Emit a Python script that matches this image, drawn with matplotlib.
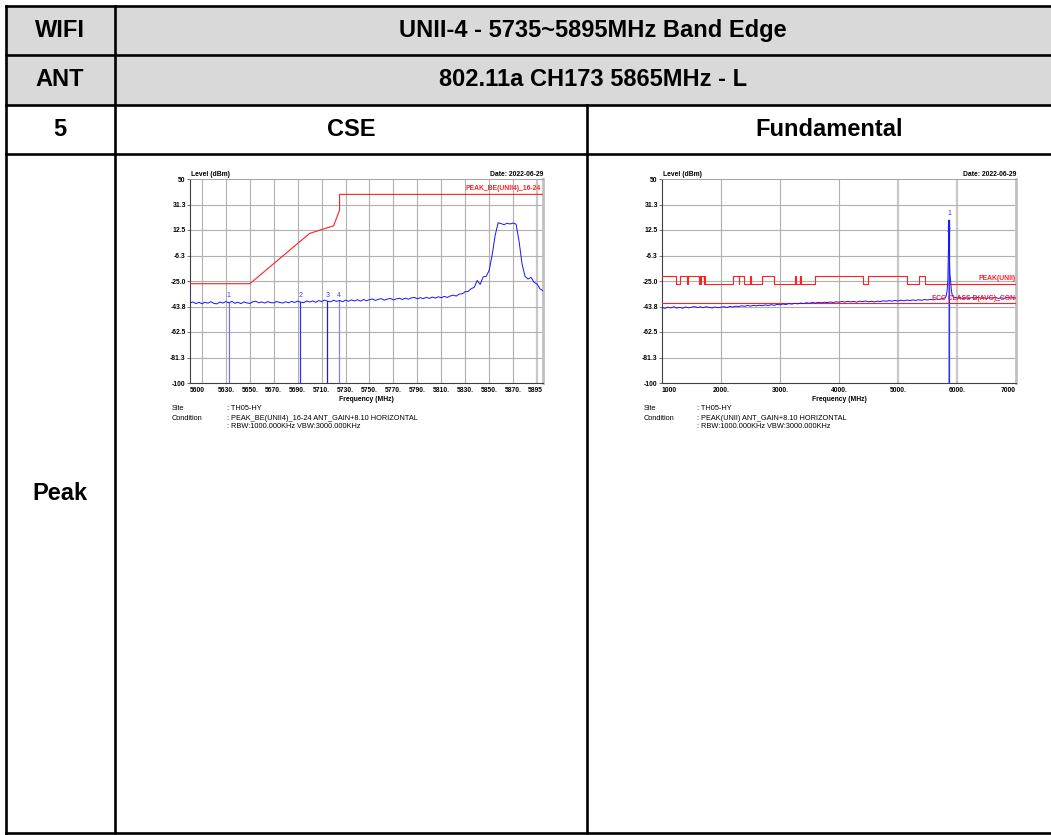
import numpy as np
import matplotlib
matplotlib.use("Agg")
import matplotlib.pyplot as plt

plt.rcParams['font.family'] = ['Liberation Sans', 'DejaVu Sans']

# ---------------- table texts ----------------
row_labels = ["WIFI", "ANT", "5", "Peak"]
title_band = "UNII-4 - 5735~5895MHz Band Edge"
title_ant = "802.11a CH173 5865MHz - L"
col_titles = ["CSE", "Fundamental"]

# ---------------- common y axis ----------------
y_ticks = [50, 31.25, 12.5, -6.25, -25.0, -43.75, -62.5, -81.25, -100]
y_tick_labels = ["50", "31.3", "12.5", "-6.3", "-25.0", "-43.8", "-62.5", "-81.3", "-100"]

# ---------------- CSE (band edge) plot ----------------
cse_grid = [5610, 5630, 5650, 5670, 5690, 5710, 5730, 5750, 5770, 5790,
            5810, 5830, 5850, 5870, 5890]
cse_tick_vals = [5600, 5630, 5650, 5670, 5690, 5710, 5730, 5750, 5770, 5790,
                 5810, 5830, 5850, 5870, 5895]
cse_tick_labels = ["5600", "5630.", "5650.", "5670.", "5690.", "5710.", "5730.",
                   "5750.", "5770.", "5790.", "5810.", "5830.", "5850.", "5870.", "5895"]
cse_freq_start, cse_freq_step = 5600.0, 2.5
cse_level = [-41.2, -40.4, -41.6, -40.7, -41.7, -40.6, -41.3, -40.2, -41.5, -41.8,
             -40.5, -41.2, -40.1, -41.1, -40.0, -41.4, -40.6, -41.6, -40.4, -41.1,
             -41.5, -40.3, -39.9, -41.0, -40.4, -41.2, -40.2, -40.9, -41.1, -40.1,
             -40.8, -41.2, -40.3, -41.0, -40.0, -40.8, -39.8, -40.6, -40.9, -39.7,
             -40.5, -39.6, -40.7, -39.4, -40.1, -39.0, -39.9, -40.3, -39.2, -40.0,
             -39.3, -40.2, -39.1, -39.9, -38.9, -39.7, -38.8, -39.8, -38.6, -39.5,
             -38.7, -38.2, -39.3, -38.4, -38.0, -39.1, -38.3, -37.8, -38.9, -38.1,
             -37.7, -38.6, -37.6, -38.4, -37.4, -37.1, -38.1, -37.2, -38.0, -37.0,
             -37.8, -36.8, -37.6, -36.6, -37.3, -36.3, -37.1, -36.0, -35.4, -36.1,
             -34.6, -34.4, -32.9, -32.6, -30.6, -29.7, -24.6, -27.5, -21.9, -21.6,
             -17.2, -6.0, 8.5, 17.8, 17.2, 16.4, 17.5, 16.9, 17.6, 16.8,
             4.2, -12.5, -21.6, -23.6, -22.3, -26.0, -27.2, -30.8, -32.2]
cse_limit_freq = [5600, 5650, 5700, 5720, 5725, 5725, 5895]
cse_limit_level = [-27.0, -27.0, 10.0, 15.6, 27.0, 38.7, 38.7]
cse_limit_name = "PEAK_BE(UNII4)_16-24"
cse_marker_freq = [5632.5, 5692.2, 5714.8, 5724.5]
cse_marker_level = [-40.6, -40.2, -39.5, -39.6]
cse_marker_names = ["1", "2", "3", "4"]

# ---------------- Fundamental plot ----------------
fund_grid = [2000, 3000, 4000, 5000, 6000]
fund_tick_vals = [1000, 2000, 3000, 4000, 5000, 6000, 7000]
fund_tick_labels = ["1000", "2000.", "3000.", "4000.", "5000.", "6000.", "7000"]
fund_low_start, fund_low_step = 1000, 50
fund_low_level = [-44.6, -45.1, -44.2, -44.8, -44.0, -44.9, -44.4, -45.0, -44.1, -44.7,
                  -44.3, -43.8, -44.5, -44.0, -44.6, -43.9, -44.4, -44.8, -44.1, -44.6,
                  -44.3, -43.9, -44.5, -43.7, -44.2, -43.5, -43.9, -43.2, -43.6, -43.0,
                  -43.5, -42.9, -43.3, -42.8, -43.2, -42.6, -43.0, -42.4, -42.9, -42.2,
                  -42.5, -41.9, -42.3, -41.6, -42.0, -41.4, -41.8, -41.2, -41.6, -41.0,
                  -41.4, -40.8, -41.2, -40.7, -41.1, -40.6, -40.9, -40.4, -40.8, -40.3,
                  -40.6, -40.1, -40.5, -39.9, -40.4, -40.0, -40.6, -39.8, -40.2, -39.7,
                  -40.3, -39.9, -40.4, -39.8, -40.1, -39.5, -39.9, -39.4, -39.8, -39.3,
                  -39.7, -39.1, -39.6, -39.0, -39.4, -38.9, -39.3, -38.8, -39.2, -38.6,
                  -39.0, -38.5, -38.9, -38.2, -38.6, -37.9, -37.4]
fund_peak_freq = [5820, 5835, 5845, 5852, 5857, 5861, 5864, 5866, 5868, 5871,
                  5875, 5880, 5887, 5895, 5905, 5920, 5940, 5960, 5980]
fund_peak_level = [-35.5, -31.0, -24.0, -8.0, 2.0, 14.0, 19.8, 18.5, 8.0, -5.0,
                   -14.0, -20.5, -22.5, -27.0, -32.0, -35.5, -36.8, -37.3, -37.0]
fund_high_start, fund_high_step = 6000, 50
fund_high_level = [-37.6, -37.1, -37.9, -37.3, -37.8, -37.2, -37.7, -37.0, -37.6, -37.3,
                   -37.9, -37.2, -37.6, -37.1, -37.8, -37.4, -37.7, -37.0, -37.5, -37.2,
                   -37.6]
restricted_bands = [(1000, 1240), (1300, 1427), (1435, 1626.5), (1645.5, 1646.5),
                    (1660, 1710), (1718.8, 1722.2), (2200, 2300), (2310, 2390),
                    (2483.5, 2500), (2690, 2900), (3260, 3267), (3332, 3339),
                    (3345.8, 3358), (3600, 4400), (4500, 5150), (5350, 5460)]
peak_limit_high, peak_limit_low = -21.2, -27.0
avg_limit = -41.2
fund_limit_names = ["PEAK(UNII)", "FCC CLASS B(AVG)_CON"]
fund_marker_freq = [5866]
fund_marker_level = [19.8]

site = ": TH05-HY"
cse_condition = ": PEAK_BE(UNII4)_16-24 ANT_GAIN+8.10 HORIZONTAL"
fund_condition = ": PEAK(UNII) ANT_GAIN+8.10 HORIZONTAL"
rbw_text = ": RBW:1000.000KHz VBW:3000.000KHz"
date_text = "Date: 2022-06-29"

W, H = 1051, 835
fig = plt.figure(figsize=(W / 100, H / 100), dpi=100)
fig.patch.set_facecolor("white")

# ---------------- table ----------------
tb = fig.add_axes([0, 0, 1, 1])
tb.set_xlim(0, W)
tb.set_ylim(H, 0)
tb.axis("off")
x_left, x_c1, x_c2, x_right = 6, 115, 587, 1071
y_rows = [5.5, 55, 104.5, 154, 833]
tb.fill_between([x_left, W], y_rows[0], y_rows[2], color="#d9d9d9", lw=0, zorder=0)
lw_t = 1.9
for y in y_rows:
    tb.plot([x_left, W + 5], [y, y], color="black", lw=lw_t, solid_capstyle="projecting")
tb.plot([x_left, x_left], [y_rows[0], y_rows[-1]], color="black", lw=lw_t)
tb.plot([x_c1, x_c1], [y_rows[0], y_rows[-1]], color="black", lw=lw_t)
tb.plot([x_c2, x_c2], [y_rows[2], y_rows[-1]], color="black", lw=lw_t)
tfs = 17
tb.text(60, 30.5, row_labels[0], ha="center", va="center", fontsize=tfs, fontweight="bold")
tb.text(60, 80, row_labels[1], ha="center", va="center", fontsize=tfs, fontweight="bold")
tb.text(60, 129.5, row_labels[2], ha="center", va="center", fontsize=tfs, fontweight="bold")
tb.text(60, 494, row_labels[3], ha="center", va="center", fontsize=tfs, fontweight="bold")
tb.text((x_c1 + x_right) / 2, 30.5, title_band, ha="center", va="center", fontsize=tfs, fontweight="bold")
tb.text((x_c1 + x_right) / 2, 80, title_ant, ha="center", va="center", fontsize=tfs, fontweight="bold")
tb.text((x_c1 + x_c2) / 2, 129.5, col_titles[0], ha="center", va="center", fontsize=tfs, fontweight="bold")
tb.text((x_c2 + x_right) / 2, 129.5, col_titles[1], ha="center", va="center", fontsize=tfs, fontweight="bold")

SFS = 4.9  # small font


def setup_axes(px0, px1, py0, py1, xlim, grid, tick_vals, tick_labels, thick=()):
    ax = fig.add_axes([px0 / W, 1 - py1 / H, (px1 - px0) / W, (py1 - py0) / H])
    ax.set_xlim(*xlim)
    ax.set_ylim(-100, 50)
    ax.set_yticks(y_ticks)
    ax.set_yticklabels(y_tick_labels, fontsize=SFS, fontweight="bold")
    ax.tick_params(axis="y", length=2, width=0.5, pad=1, color="#444444")
    ax.set_xticks([])
    for g in grid:
        ax.axvline(g, color="#c8c8c8" if g in thick else "#b0b0b0",
                   lw=1.6 if g in thick else 0.8, zorder=0)
    for yt in y_ticks[1:-1]:
        ax.axhline(yt, color="#b0b0b0", lw=0.8, zorder=0)
    for v, lab in zip(tick_vals, tick_labels):
        ha = "center"
        if v == xlim[0]:
            ha = "left"
        elif v == xlim[1]:
            ha = "right"
        ax.text(v, -0.022, lab, transform=ax.get_xaxis_transform(), ha=ha, va="top",
                fontsize=SFS, fontweight="bold")
    ax.text(0.5, -0.065, "Frequency (MHz)", transform=ax.transAxes, ha="center", va="top",
            fontsize=SFS, fontweight="bold")
    ax.text(0.003, 1.005, "Level (dBm)", transform=ax.transAxes, ha="left", va="bottom",
            fontsize=SFS, fontweight="bold")
    ax.text(1.0, 1.005, date_text, transform=ax.transAxes, ha="right", va="bottom",
            fontsize=SFS, fontweight="bold")
    ax.spines["left"].set_color("#404040")
    ax.spines["left"].set_linewidth(0.8)
    ax.spines["bottom"].set_color("#404040")
    ax.spines["bottom"].set_linewidth(0.8)
    ax.spines["top"].set_color("#a0a0a0")
    ax.spines["top"].set_linewidth(0.7)
    ax.spines["right"].set_color("#c0c0c0")
    ax.spines["right"].set_linewidth(2.0)
    return ax


def info_block(x_lab, x_val, cond):
    tb.text(x_lab, 409, "Site", ha="left", va="center", fontsize=5.3)
    tb.text(x_lab, 418, "Condition", ha="left", va="center", fontsize=5.3)
    tb.text(x_val, 409, site, ha="left", va="center", fontsize=5.3)
    tb.text(x_val, 418, cond, ha="left", va="center", fontsize=5.3)
    tb.text(x_val, 427, rbw_text, ha="left", va="center", fontsize=5.3)


# ---------- left plot ----------
ax1 = setup_axes(190, 543, 179, 383, (5600, 5895), cse_grid, cse_tick_vals, cse_tick_labels,
                 thick=(5890,))
cse_freq = cse_freq_start + cse_freq_step * np.arange(len(cse_level))
ax1.plot(cse_limit_freq, cse_limit_level, color="#ff2020", lw=0.8, zorder=3)
ax1.text(5893, 38.7 + 1.5, cse_limit_name, color="#ff2020", fontsize=SFS, fontweight="bold",
         ha="right", va="bottom")
marker_cols = ["#7070ff", "#3030ff", "#2020c0", "#8080ff"]
for f, lv, name, c in zip(cse_marker_freq, cse_marker_level, cse_marker_names, marker_cols):
    ax1.plot([f, f], [-100, lv], color=c, lw=0.9, zorder=2)
    ax1.text(f, -35.3, name, color="#4040ff", fontsize=5, ha="center", va="center")
ax1.plot(cse_freq, cse_level, color="#1414ff", lw=0.7, zorder=4)

# ---------- right plot ----------
ax2 = setup_axes(662, 1016, 179, 383, (1000, 7000), fund_grid, fund_tick_vals, fund_tick_labels,
                 thick=(5000, 6000))
fund_freq = np.concatenate([fund_low_start + fund_low_step * np.arange(len(fund_low_level)),
                            np.array(fund_peak_freq, dtype=float),
                            fund_high_start + fund_high_step * np.arange(len(fund_high_level))])
fund_level = np.concatenate([fund_low_level, fund_peak_level, fund_high_level])
# step limit line built from restricted bands
level_of = lambda f: peak_limit_high if any(a <= f < b for a, b in restricted_bands) else peak_limit_low
edges = sorted(set([1000, 7000] + [e for band in restricted_bands for e in band]))
step_x, step_y = [], []
for a, b in zip(edges[:-1], edges[1:]):
    lv = level_of((a + b) / 2)
    step_x += [a, b]
    step_y += [lv, lv]
ax2.plot(step_x, step_y, color="#ff2020", lw=0.8, zorder=3)
ax2.axhline(avg_limit, color="#ff2020", lw=0.8, zorder=3)
for f, lv in zip(fund_marker_freq, fund_marker_level):
    ax2.plot([f - 4, f - 4], [-100, lv - 5], color="#9a9aff", lw=1.4, zorder=2)
    ax2.plot([f, f], [-100, lv], color="#3030ff", lw=0.9, zorder=2)
ax2.plot(fund_freq, fund_level, color="#1414ff", lw=0.7, zorder=4)
ax2.text(5866, 24.5, "1", color="#3030ff", fontsize=5, ha="center", va="center", zorder=5)
ax2.text(5866, 12.4, "2", color="#3030ff", fontsize=5, ha="center", va="center", zorder=5)
ax2.text(6990, peak_limit_low + 1.0, fund_limit_names[0], color="#ff2020", fontsize=SFS,
         fontweight="bold", ha="right", va="bottom", zorder=5)
ax2.text(6990, avg_limit + 1.0, fund_limit_names[1], color="#ff2020", fontsize=SFS,
         fontweight="bold", ha="right", va="bottom", zorder=5)

info_block(172, 227, cse_condition)
info_block(644, 697, fund_condition)

fig.savefig("out.png", dpi=100)
